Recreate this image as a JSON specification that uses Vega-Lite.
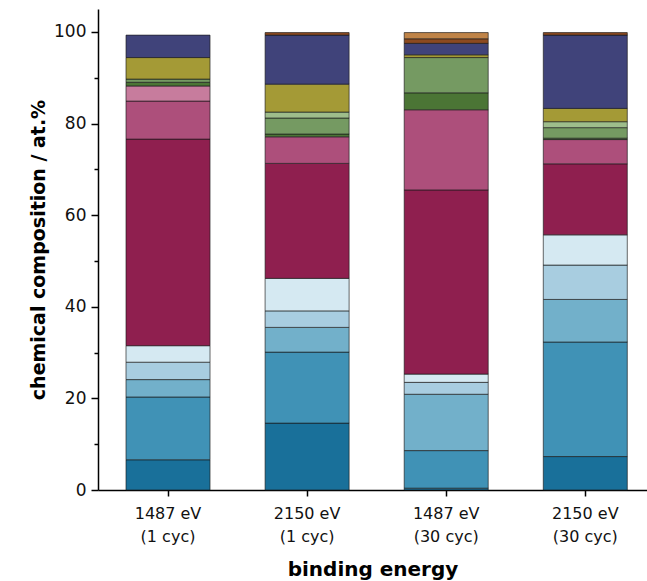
{
  "$schema": "https://vega.github.io/schema/vega-lite/v6.json",
  "width": 549,
  "height": 481,
  "autosize": {"type": "none"},
  "padding": {"left": 98, "top": 9, "right": 0, "bottom": 91},
  "background": "white",
  "config": {"view": {"stroke": null}, "font": "DejaVu Sans"},
  "data": {
    "values": [
      {"sample": "1487 eV|(1 cyc)", "k": 1, "component": "c01", "value": 6.6},
      {"sample": "1487 eV|(1 cyc)", "k": 2, "component": "c02", "value": 13.7},
      {"sample": "1487 eV|(1 cyc)", "k": 3, "component": "c03", "value": 3.8},
      {"sample": "1487 eV|(1 cyc)", "k": 4, "component": "c04", "value": 3.8},
      {"sample": "1487 eV|(1 cyc)", "k": 5, "component": "c05", "value": 3.6},
      {"sample": "1487 eV|(1 cyc)", "k": 6, "component": "c06", "value": 45.1},
      {"sample": "1487 eV|(1 cyc)", "k": 7, "component": "c07", "value": 8.3},
      {"sample": "1487 eV|(1 cyc)", "k": 8, "component": "c08", "value": 3.3},
      {"sample": "1487 eV|(1 cyc)", "k": 9, "component": "c09", "value": 0.8},
      {"sample": "1487 eV|(1 cyc)", "k": 10, "component": "c10", "value": 0.7},
      {"sample": "1487 eV|(1 cyc)", "k": 12, "component": "c12", "value": 4.7},
      {"sample": "1487 eV|(1 cyc)", "k": 13, "component": "c13", "value": 4.9},

      {"sample": "2150 eV|(1 cyc)", "k": 1, "component": "c01", "value": 14.6},
      {"sample": "2150 eV|(1 cyc)", "k": 2, "component": "c02", "value": 15.5},
      {"sample": "2150 eV|(1 cyc)", "k": 3, "component": "c03", "value": 5.4},
      {"sample": "2150 eV|(1 cyc)", "k": 4, "component": "c04", "value": 3.6},
      {"sample": "2150 eV|(1 cyc)", "k": 5, "component": "c05", "value": 7.1},
      {"sample": "2150 eV|(1 cyc)", "k": 6, "component": "c06", "value": 25.1},
      {"sample": "2150 eV|(1 cyc)", "k": 7, "component": "c07", "value": 5.8},
      {"sample": "2150 eV|(1 cyc)", "k": 9, "component": "c09", "value": 0.6},
      {"sample": "2150 eV|(1 cyc)", "k": 10, "component": "c10", "value": 3.5},
      {"sample": "2150 eV|(1 cyc)", "k": 11, "component": "c11", "value": 1.3},
      {"sample": "2150 eV|(1 cyc)", "k": 12, "component": "c12", "value": 6.1},
      {"sample": "2150 eV|(1 cyc)", "k": 13, "component": "c13", "value": 10.7},
      {"sample": "2150 eV|(1 cyc)", "k": 14, "component": "c14", "value": 0.55},

      {"sample": "1487 eV|(30 cyc)", "k": 1, "component": "c01", "value": 0.4},
      {"sample": "1487 eV|(30 cyc)", "k": 2, "component": "c02", "value": 8.2},
      {"sample": "1487 eV|(30 cyc)", "k": 3, "component": "c03", "value": 12.3},
      {"sample": "1487 eV|(30 cyc)", "k": 4, "component": "c04", "value": 2.6},
      {"sample": "1487 eV|(30 cyc)", "k": 5, "component": "c05", "value": 1.8},
      {"sample": "1487 eV|(30 cyc)", "k": 6, "component": "c06", "value": 40.2},
      {"sample": "1487 eV|(30 cyc)", "k": 7, "component": "c07", "value": 17.5},
      {"sample": "1487 eV|(30 cyc)", "k": 9, "component": "c09", "value": 3.7},
      {"sample": "1487 eV|(30 cyc)", "k": 10, "component": "c10", "value": 7.7},
      {"sample": "1487 eV|(30 cyc)", "k": 12, "component": "c12", "value": 0.6},
      {"sample": "1487 eV|(30 cyc)", "k": 13, "component": "c13", "value": 2.5},
      {"sample": "1487 eV|(30 cyc)", "k": 14, "component": "c14", "value": 1.0},
      {"sample": "1487 eV|(30 cyc)", "k": 15, "component": "c15", "value": 1.35},

      {"sample": "2150 eV|(30 cyc)", "k": 1, "component": "c01", "value": 7.3},
      {"sample": "2150 eV|(30 cyc)", "k": 2, "component": "c02", "value": 25.0},
      {"sample": "2150 eV|(30 cyc)", "k": 3, "component": "c03", "value": 9.3},
      {"sample": "2150 eV|(30 cyc)", "k": 4, "component": "c04", "value": 7.5},
      {"sample": "2150 eV|(30 cyc)", "k": 5, "component": "c05", "value": 6.6},
      {"sample": "2150 eV|(30 cyc)", "k": 6, "component": "c06", "value": 15.5},
      {"sample": "2150 eV|(30 cyc)", "k": 7, "component": "c07", "value": 5.3},
      {"sample": "2150 eV|(30 cyc)", "k": 9, "component": "c09", "value": 0.3},
      {"sample": "2150 eV|(30 cyc)", "k": 10, "component": "c10", "value": 2.3},
      {"sample": "2150 eV|(30 cyc)", "k": 11, "component": "c11", "value": 1.3},
      {"sample": "2150 eV|(30 cyc)", "k": 12, "component": "c12", "value": 2.9},
      {"sample": "2150 eV|(30 cyc)", "k": 13, "component": "c13", "value": 16.0},
      {"sample": "2150 eV|(30 cyc)", "k": 14, "component": "c14", "value": 0.55}
    ]
  },
  "mark": {"type": "bar", "stroke": "#1a1a1a", "strokeWidth": 1, "strokeOpacity": 0.65},
  "encoding": {
    "x": {
      "field": "sample",
      "type": "nominal",
      "sort": ["1487 eV|(1 cyc)", "2150 eV|(1 cyc)", "1487 eV|(30 cyc)", "2150 eV|(30 cyc)"],
      "scale": {"paddingInner": 0.396, "paddingOuter": 0.1715, "align": 0.587},
      "axis": {
        "title": "binding energy",
        "titleFont": "DejaVu Sans",
        "titleFontSize": 20,
        "titleFontWeight": "bold",
        "titleColor": "#000",
        "titlePadding": 15,
        "labelExpr": "split(datum.value, '|')",
        "labelFont": "DejaVu Sans",
        "labelFontSize": 16,
        "labelColor": "#111",
        "labelAngle": 0,
        "labelLineHeight": 23,
        "labelPadding": 9,
        "tickSize": 6,
        "tickColor": "#000",
        "tickWidth": 1.5,
        "domainColor": "#000",
        "domainWidth": 1.5
      }
    },
    "y": {
      "field": "value",
      "type": "quantitative",
      "stack": "zero",
      "scale": {"domain": [0, 105], "nice": false, "zero": true},
      "axis": {
        "title": "chemical composition / at.%",
        "titleFont": "DejaVu Sans",
        "titleFontSize": 19,
        "titleFontWeight": "bold",
        "titleColor": "#000",
        "titlePadding": 5,
        "values": [0, 10, 20, 30, 40, 50, 60, 70, 80, 90, 100],
        "labelExpr": "datum.value % 20 === 0 ? datum.label : ''",
        "labelFont": "DejaVu Sans",
        "labelFontSize": 17,
        "labelColor": "#111",
        "labelPadding": 5,
        "tickSize": {"condition": {"test": "datum.value % 20 === 0", "value": 7}, "value": 4},
        "tickColor": "#000",
        "tickWidth": 1.5,
        "domainColor": "#000",
        "domainWidth": 1.5,
        "grid": false
      }
    },
    "color": {
      "field": "component",
      "type": "nominal",
      "legend": null,
      "scale": {
        "domain": ["c01", "c02", "c03", "c04", "c05", "c06", "c07", "c08", "c09", "c10", "c11", "c12", "c13", "c14", "c15"],
        "range": ["#19709a", "#4092b6", "#72b0ca", "#a8cde0", "#d5e9f2", "#8f1f4f", "#ad4f7b", "#c77c9d", "#4b7535", "#759a62", "#9ebd8b", "#a49a36", "#40437a", "#8c4a20", "#c08448"]
      }
    },
    "order": {"field": "k", "type": "quantitative", "sort": "ascending"}
  }
}
